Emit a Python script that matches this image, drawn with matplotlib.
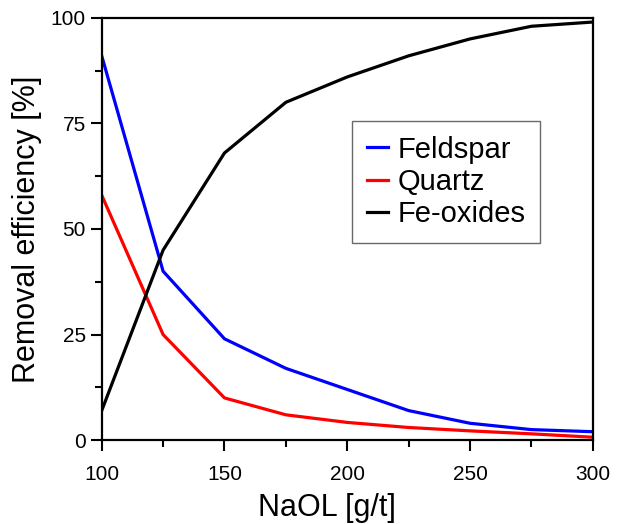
import numpy as np
import matplotlib.pyplot as plt
from matplotlib.ticker import MultipleLocator

plt.rcParams['font.family'] = ['Liberation Sans', 'DejaVu Sans']

naol = [100, 125, 150, 175, 200, 225, 250, 275, 300]
feldspar = [91, 40, 24, 17, 12, 7, 4, 2.5, 2]
quartz = [58, 25, 10, 6, 4.2, 3, 2.2, 1.5, 0.7]
fe_oxides = [7, 45, 68, 80, 86, 91, 95, 98, 99]

fig = plt.figure(figsize=(6.24, 5.24), dpi=100)
ax = fig.add_axes([0.163, 0.160, 0.787, 0.806])

ax.plot(naol, feldspar, color='#0000ff', lw=2.3, label='Feldspar')
ax.plot(naol, quartz, color='#ff0000', lw=2.3, label='Quartz')
ax.plot(naol, fe_oxides, color='black', lw=2.3, label='Fe-oxides')

ax.set_xlim(100, 300)
ax.set_ylim(0, 100)
ax.xaxis.set_major_locator(MultipleLocator(50))
ax.xaxis.set_minor_locator(MultipleLocator(25))
ax.yaxis.set_major_locator(MultipleLocator(25))
ax.yaxis.set_minor_locator(MultipleLocator(12.5))
ax.tick_params(which='major', direction='out', length=8, width=1.5, labelsize=15)
ax.tick_params(which='minor', direction='out', length=5, width=1.5)
ax.tick_params(axis='x', pad=10)
for s in ax.spines.values():
    s.set_linewidth(1.6)

ax.set_xlabel('NaOL [g/t]', fontsize=22)
ax.xaxis.set_label_coords(0.458, -0.125)
ax.set_ylabel('Removal efficiency [%]', fontsize=22, labelpad=6)

leg = ax.legend(loc='upper left', bbox_to_anchor=(0.48, 0.79), fontsize=21,
                handlelength=0.75, handletextpad=0.3, labelspacing=0.15,
                fancybox=False, edgecolor='#444444', borderpad=0.5)
leg.get_frame().set_linewidth(1.0)

plt.savefig('out.png', dpi=100)
